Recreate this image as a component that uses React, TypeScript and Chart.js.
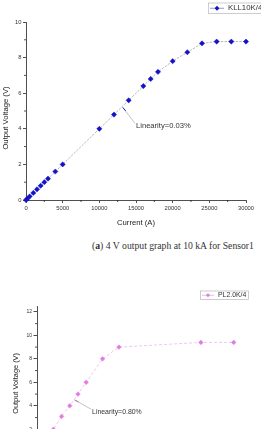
import React, { useEffect, useRef } from "react";
import { Chart, registerables } from "chart.js";

Chart.register(...registerables);

// Sensor 1 (KLL10K/4): primary current (A) vs output voltage (V)
const kllLabel = "KLL10K/4";
const kllCurrent = [0, 200, 500, 1000, 1500, 2000, 2500, 3000, 4000, 5000, 10000, 12000, 14000, 16000, 17000, 18000, 20000, 22000, 24000, 26000, 28000, 30000];
const kllVoltage = [0, 0.08, 0.2, 0.4, 0.6, 0.8, 1.0, 1.2, 1.6, 2.0, 4.0, 4.8, 5.6, 6.4, 6.8, 7.2, 7.8, 8.3, 8.8, 8.9, 8.9, 8.9];
const kllCurrentTicks = [0, 5000, 10000, 15000, 20000, 25000, 30000];
const kllVoltageTicks = [0, 2, 4, 6, 8, 10];
const kllNote = "Linearity=0.03%";
const kllNoteAnchor = [13200, 5.2];
const kllNoteText = [15000, 4.16];

// Sensor 2 (PL2.0K/4)
const plLabel = "PL2.0K/4";
const plCurrent = [0, 500, 1000, 1500, 2000, 2500, 3000, 4000, 5000, 10000, 12000];
const plVoltage = [0, 1, 2, 3.1, 4, 5, 6, 8, 9, 9.4, 9.4];
const plCurrentTicks = [0, 2000, 4000, 6000, 8000, 10000, 12000];
const plVoltageTicks = [0, 2, 4, 6, 8, 10, 12];
const plNote = "Linearity=0.80%";
const plNoteAnchor = [2300, 4.5];
const plNoteText = [3360, 3.5];

const caption = "4 V output graph at 10 kA for Sensor1";

const SANS = "'Liberation Sans', Arial, sans-serif";
const AXIS = "#222";

function midpoints(t: number[]) {
  const out: number[] = [];
  for (let i = 0; i < t.length - 1; i++) out.push((t[i] + t[i + 1]) / 2);
  return out;
}

function diamond(ctx: CanvasRenderingContext2D, x: number, y: number, r: number, fill: string) {
  ctx.beginPath();
  ctx.moveTo(x, y - r);
  ctx.lineTo(x + r, y);
  ctx.lineTo(x, y + r);
  ctx.lineTo(x - r, y);
  ctx.closePath();
  ctx.fillStyle = fill;
  ctx.fill();
}

// minor ticks, axis titles, legend box and the linearity note
const decorPlugin = {
  id: "decor",
  afterDraw(chart: any, _a: any, o: any) {
    const { ctx, chartArea, scales } = chart;
    const xs = scales.x;
    const ys = scales.y;
    ctx.save();
    ctx.strokeStyle = AXIS;
    ctx.lineWidth = 0.8;
    for (const v of o.minorX) {
      const px = xs.getPixelForValue(v);
      ctx.beginPath();
      ctx.moveTo(px, chartArea.bottom);
      ctx.lineTo(px, chartArea.bottom + o.minorLen);
      ctx.stroke();
    }
    for (const v of o.minorY) {
      if (v > ys.max) continue;
      const py = ys.getPixelForValue(v);
      ctx.beginPath();
      ctx.moveTo(chartArea.left - o.minorLen, py);
      ctx.lineTo(chartArea.left, py);
      ctx.stroke();
    }

    // axis titles
    ctx.fillStyle = AXIS;
    ctx.font = `${o.titleSize}px ${SANS}`;
    ctx.textAlign = "center";
    ctx.textBaseline = "middle";
    ctx.fillText(o.xTitle, (chartArea.left + chartArea.right) / 2, o.xTitleY);
    ctx.save();
    ctx.translate(o.yTitleX, (chartArea.top + chartArea.bottom) / 2 + o.yTitleShift);
    ctx.rotate(-Math.PI / 2);
    ctx.fillText(o.yTitle, 0, 0);
    ctx.restore();

    // note with leader line
    const ax = xs.getPixelForValue(o.noteAnchor[0]);
    const ay = ys.getPixelForValue(o.noteAnchor[1]);
    const tx = xs.getPixelForValue(o.noteText[0]);
    const ty = ys.getPixelForValue(o.noteText[1]);
    ctx.strokeStyle = "#9a9a9a";
    ctx.lineWidth = 0.6;
    ctx.beginPath();
    ctx.moveTo(ax, ay);
    ctx.lineTo(tx - 1, ty - 2.5);
    ctx.stroke();
    ctx.strokeStyle = o.noteTip;
    ctx.lineWidth = 0.9;
    ctx.beginPath();
    ctx.moveTo(ax, ay);
    ctx.lineTo(ax + (tx - ax) * 0.22, ay + (ty - 2.5 - ay) * 0.22);
    ctx.stroke();
    ctx.fillStyle = "#333";
    ctx.font = `${o.noteSize}px ${SANS}`;
    ctx.textAlign = "left";
    ctx.fillText(o.note, tx, ty);

    // legend box
    const L = o.legend;
    ctx.fillStyle = "#fff";
    ctx.fillRect(L.x, L.y, L.w, L.h);
    ctx.strokeStyle = "#b8b8b8";
    ctx.lineWidth = 0.7;
    ctx.strokeRect(L.x + 0.5, L.y + 0.5, L.w, L.h);
    const cy = L.y + L.h / 2 + 0.5;
    ctx.strokeStyle = L.lineColor;
    ctx.lineWidth = 0.8;
    ctx.beginPath();
    ctx.moveTo(L.x + 2, cy);
    ctx.lineTo(L.x + L.sample, cy);
    ctx.stroke();
    diamond(ctx, L.x + 2 + (L.sample - 2) / 2, cy, L.r, L.marker);
    ctx.fillStyle = "#333";
    ctx.font = `${L.size}px ${SANS}`;
    ctx.textAlign = "left";
    ctx.fillText(L.text, L.x + L.sample + 4, cy);
    ctx.restore();
  },
};

function makeConfig(p: {
  xs: number[];
  ys: number[];
  label: string;
  xTicks: number[];
  yTicks: number[];
  xMax: number;
  yMax: number;
  marker: string;
  line: string;
  dash: number[];
  r: number;
  pad: { top: number; right: number };
  yWidth: number;
  xHeight: number;
  tickSize: number;
  tickLen: number;
  yPad: number;
  decor: any;
}) {
  const axisCommon = {
    grid: { drawOnChartArea: false, drawTicks: true, tickLength: p.tickLen, color: AXIS, tickColor: AXIS, lineWidth: 0.8 },
    border: { color: AXIS, width: 0.8 },
  };
  const plain = (v: any) => String(v);
  return {
    type: "line" as const,
    data: {
      datasets: [
        {
          label: p.label,
          data: p.xs.map((x, i) => ({ x, y: p.ys[i] })),
          borderColor: p.line,
          borderWidth: 0.8,
          borderDash: p.dash,
          pointStyle: "rectRot",
          pointRadius: p.r,
          pointBackgroundColor: p.marker,
          pointBorderColor: p.marker,
          pointBorderWidth: 0.5,
          tension: 0,
          clip: false as any,
        },
      ],
    },
    options: {
      animation: false as const,
      responsive: false,
      devicePixelRatio: 1,
      layout: { padding: { left: 0, top: p.pad.top, right: p.pad.right, bottom: 0 } },
      plugins: { legend: { display: false }, tooltip: { enabled: false }, decor: p.decor },
      scales: {
        x: {
          type: "linear" as const,
          min: 0,
          max: p.xMax,
          ...axisCommon,
          afterFit: (s: any) => {
            s.height = p.xHeight;
          },
          afterBuildTicks: (s: any) => {
            s.ticks = p.xTicks.map((value) => ({ value }));
          },
          ticks: { autoSkip: false, maxRotation: 0, padding: 2, color: "#333", callback: plain, font: { size: p.tickSize, family: SANS } },
        },
        y: {
          type: "linear" as const,
          min: 0,
          max: p.yMax,
          ...axisCommon,
          afterFit: (s: any) => {
            s.width = p.yWidth;
          },
          afterBuildTicks: (s: any) => {
            s.ticks = p.yTicks.map((value) => ({ value }));
          },
          ticks: { autoSkip: false, padding: p.yPad, color: "#333", callback: plain, font: { size: p.tickSize, family: SANS } },
        },
      },
    },
    plugins: [decorPlugin],
  };
}

function ChartCanvas({ config, width, height }: { config: any; width: number; height: number }) {
  const ref = useRef<HTMLCanvasElement | null>(null);
  useEffect(() => {
    if (!ref.current) return;
    const chart = new Chart(ref.current, config);
    return () => chart.destroy();
  }, [config]);
  return <canvas ref={ref} width={width} height={height} style={{ display: "block", width, height }} />;
}

const kllConfig = makeConfig({
  xs: kllCurrent,
  ys: kllVoltage,
  label: kllLabel,
  xTicks: kllCurrentTicks,
  yTicks: kllVoltageTicks,
  xMax: 30000,
  yMax: 10,
  marker: "#1212c6",
  line: "#a8a8a8",
  dash: [2.5, 1.2],
  r: 2.6,
  pad: { top: 22, right: 15 },
  yWidth: 26,
  xHeight: 30,
  tickSize: 5.8,
  tickLen: 3,
  yPad: 1.5,
  decor: {
    minorX: midpoints(kllCurrentTicks),
    minorY: midpoints(kllVoltageTicks),
    minorLen: 2,
    xTitle: "Current (A)",
    yTitle: "Output Voltage (V)",
    xTitleY: 222.7,
    yTitleX: 5.5,
    yTitleShift: 7,
    titleSize: 7.7,
    note: kllNote,
    noteAnchor: kllNoteAnchor,
    noteText: kllNoteText,
    noteSize: 7.6,
    noteTip: "#1212c6",
    legend: { x: 208, y: 2.5, w: 60, h: 10.5, sample: 16, r: 2.4, size: 7.8, text: kllLabel, marker: "#1212c6", lineColor: "#8080c0" },
  },
});

const plConfig = makeConfig({
  xs: plCurrent,
  ys: plVoltage,
  label: plLabel,
  xTicks: plCurrentTicks,
  yTicks: plVoltageTicks,
  xMax: 12000,
  yMax: 12.5,
  marker: "#e07ce0",
  line: "#ecb8ec",
  dash: [3, 2],
  r: 2.3,
  pad: { top: 26, right: 27.3 },
  yWidth: 37,
  xHeight: 27.2,
  tickSize: 5,
  tickLen: 3.5,
  yPad: 1.5,
  decor: {
    minorX: midpoints(plCurrentTicks),
    minorY: midpoints(plVoltageTicks),
    minorLen: 2,
    xTitle: "Current (A)",
    yTitle: "Output Voltage (V)",
    xTitleY: 195,
    yTitleX: 16.2,
    yTitleShift: 4,
    titleSize: 7.4,
    note: plNote,
    noteAnchor: plNoteAnchor,
    noteText: plNoteText,
    noteSize: 6.9,
    noteTip: "#a060c0",
    legend: { x: 200, y: 10.5, w: 48, h: 8.5, sample: 14, r: 2.1, size: 6.9, text: plLabel, marker: "#e07ce0", lineColor: "#e8a8e8" },
  },
});

export default function App() {
  return (
    <div
      style={{
        position: "fixed",
        left: 0,
        top: 0,
        width: 261,
        height: 429,
        overflow: "hidden",
        background: "#fff",
      }}
    >
      <div style={{ position: "absolute", left: 0, top: 0 }}>
        <ChartCanvas config={kllConfig} width={261} height={230} />
      </div>
      <div
        style={{
          position: "absolute",
          left: 92,
          top: 239.5,
          fontFamily: "'Liberation Serif', 'DejaVu Serif', serif",
          fontSize: 9.7,
          lineHeight: "11px",
          color: "#333",
          whiteSpace: "nowrap",
        }}
      >
        (<b>a</b>) {caption}
      </div>
      <div style={{ position: "absolute", left: 0, top: 280 }}>
        <ChartCanvas config={plConfig} width={261} height={200} />
      </div>
    </div>
  );
}
